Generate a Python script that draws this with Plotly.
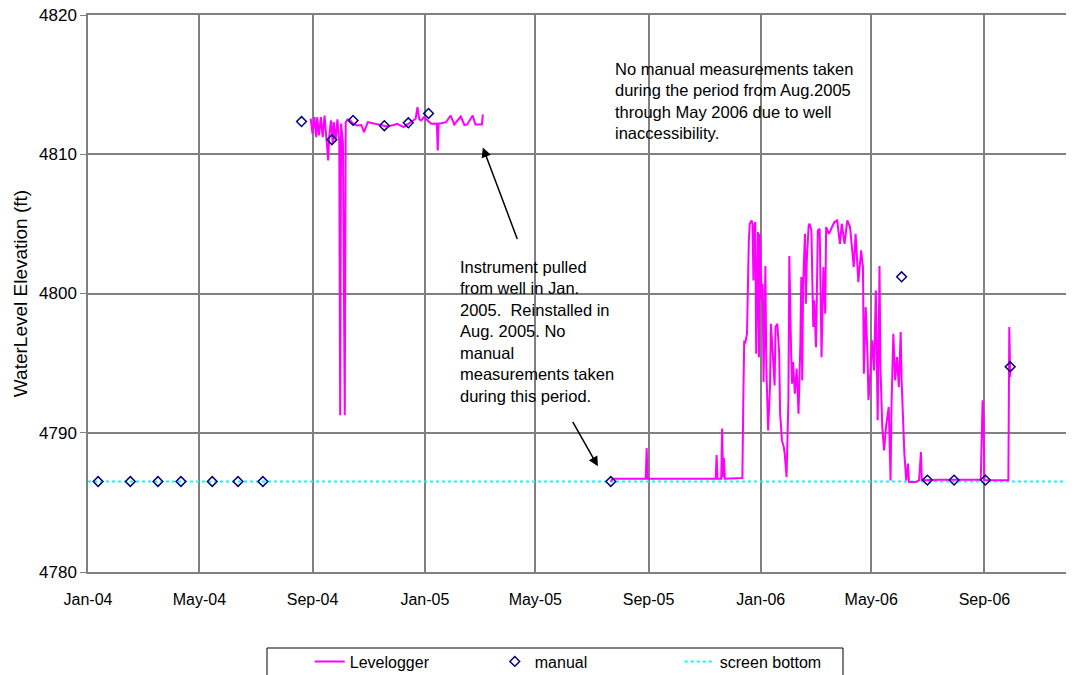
import plotly.graph_objects as go

# manual measurements (open diamonds)
manual_dates = ["2004-01-12", "2004-02-16", "2004-03-17", "2004-04-11", "2004-05-15",
                "2004-06-12", "2004-07-09",
                "2004-08-20", "2004-09-22", "2004-10-15", "2004-11-18", "2004-12-14", "2005-01-05",
                "2005-07-22",
                "2006-06-03", "2006-07-01", "2006-07-30", "2006-09-02", "2006-09-29"]
manual_ft = [4786.5, 4786.5, 4786.5, 4786.5, 4786.5,
             4786.5, 4786.5,
             4812.35, 4811.04, 4812.43, 4812.05, 4812.26, 4812.93,
             4786.5,
             4801.2, 4786.6, 4786.6, 4786.6, 4794.74]

# Levelogger record (None = gap while instrument was out of the well)
logger_dates = [
    "2004-08-30", "2004-09-01", "2004-09-03", "2004-09-05", "2004-09-06", "2004-09-08",
    "2004-09-10", "2004-09-12", "2004-09-14", "2004-09-15", "2004-09-17", "2004-09-18",
    "2004-09-19", "2004-09-21", "2004-09-23", "2004-09-24", "2004-09-26", "2004-09-28",
    "2004-09-30", "2004-10-01", "2004-10-02", "2004-10-04", "2004-10-06", "2004-10-07",
    "2004-10-09", "2004-10-12", "2004-10-15", "2004-10-19", "2004-10-24", "2004-10-27",
    "2004-10-31", "2004-11-07", "2004-11-14", "2004-11-21", "2004-11-28", "2004-12-02",
    "2004-12-09", "2004-12-17", "2004-12-22", "2004-12-24", "2004-12-26", "2004-12-28",
    "2004-12-31", "2005-01-08", "2005-01-14", "2005-01-15", "2005-01-16", "2005-01-19",
    "2005-01-24", "2005-01-29", "2005-02-02", "2005-02-09", "2005-02-13", "2005-02-16",
    "2005-02-22", "2005-02-25", "2005-03-04", "2005-03-05",
    None,
    "2005-07-22", "2005-07-24", "2005-08-29", "2005-08-30", "2005-08-31", "2005-11-13",
    "2005-11-14", "2005-11-15", "2005-11-19", "2005-11-20", "2005-11-21", "2005-11-22",
    "2005-11-23", "2005-12-12", "2005-12-13", "2005-12-14", "2005-12-15", "2005-12-17",
    "2005-12-19", "2005-12-20", "2005-12-22", "2005-12-23", "2005-12-24", "2005-12-25",
    "2005-12-26", "2005-12-27", "2005-12-28", "2005-12-29", "2005-12-30", "2005-12-31",
    "2006-01-02", "2006-01-03", "2006-01-04", "2006-01-06", "2006-01-07", "2006-01-09",
    "2006-01-11", "2006-01-12", "2006-01-14", "2006-01-16", "2006-01-17", "2006-01-19",
    "2006-01-21", "2006-01-22", "2006-01-24", "2006-01-26", "2006-01-27", "2006-01-29",
    "2006-01-31", "2006-02-01", "2006-02-03", "2006-02-04", "2006-02-05", "2006-02-07",
    "2006-02-09", "2006-02-11", "2006-02-13", "2006-02-14", "2006-02-15", "2006-02-16",
    "2006-02-18", "2006-02-19", "2006-02-20", "2006-02-22", "2006-02-23", "2006-02-25",
    "2006-02-27", "2006-02-28", "2006-03-02", "2006-03-04", "2006-03-06", "2006-03-08",
    "2006-03-10", "2006-03-12", "2006-03-13", "2006-03-16", "2006-03-22", "2006-03-25",
    "2006-03-28", "2006-03-30", "2006-04-02", "2006-04-05", "2006-04-08", "2006-04-12",
    "2006-04-14", "2006-04-15", "2006-04-17", "2006-04-20", "2006-04-22", "2006-04-23",
    "2006-04-25", "2006-04-27", "2006-04-28", "2006-04-30", "2006-05-02", "2006-05-04",
    "2006-05-06", "2006-05-08", "2006-05-10", "2006-05-11", "2006-05-13", "2006-05-15",
    "2006-05-17", "2006-05-20", "2006-05-22", "2006-05-23", "2006-05-25", "2006-05-27",
    "2006-05-29", "2006-05-31", "2006-06-02", "2006-06-03", "2006-06-05", "2006-06-06",
    "2006-06-08", "2006-06-10", "2006-06-11", "2006-06-18", "2006-06-22", "2006-06-24",
    "2006-06-25", "2006-07-15", "2006-08-10", "2006-08-28", "2006-08-30", "2006-08-31",
    "2006-09-01", "2006-09-15", "2006-09-27", "2006-09-28", "2006-09-29",
]
logger_ft = [
    4812.55, 4811.47, 4812.66, 4811.23, 4812.66, 4811.35,
    4812.66, 4811.23, 4812.78, 4812.07, 4810.27, 4809.55,
    4811.23, 4812.43, 4810.75, 4812.31, 4811.00, 4812.50,
    4810.90, 4791.25, 4812.20, 4810.80, 4791.25, 4812.30,
    4812.50, 4812.43, 4812.20, 4812.07, 4812.10, 4811.59,
    4812.31, 4812.20, 4812.14, 4812.00, 4812.10, 4812.19,
    4811.95, 4812.31, 4812.55, 4813.38, 4812.50, 4812.43,
    4812.66, 4812.19, 4812.20, 4810.27, 4812.20, 4812.23,
    4812.30, 4812.78, 4812.14, 4812.71, 4812.10, 4812.14,
    4812.78, 4812.14, 4812.14, 4812.86,
    None,
    4786.50, 4786.70, 4786.70, 4788.90, 4786.70, 4786.70,
    4788.40, 4786.70, 4786.70, 4790.30, 4786.80, 4788.20,
    4786.70, 4786.75, 4792.33, 4796.63, 4796.40, 4797.11,
    4803.81, 4805.01, 4805.25, 4805.01, 4800.94, 4804.77,
    4805.13, 4795.68, 4800.70, 4804.41, 4795.43, 4804.29,
    4799.51, 4800.70, 4793.64, 4801.98, 4794.72, 4790.17,
    4793.28, 4797.83, 4795.68, 4793.40, 4797.59, 4797.83,
    4795.68, 4791.37, 4789.45, 4788.97, 4788.50, 4786.82,
    4792.33, 4802.70, 4795.68, 4793.52, 4795.08, 4792.81,
    4794.60, 4791.37, 4796.40, 4801.18, 4793.76, 4800.70,
    4804.29, 4799.27, 4802.34, 4804.89, 4805.01, 4804.53,
    4797.59, 4799.51, 4796.15, 4804.53, 4804.65, 4795.43,
    4801.90, 4798.55, 4804.77, 4804.29, 4805.13, 4805.25,
    4803.57, 4805.01, 4803.57, 4805.25, 4804.77, 4801.90,
    4804.29, 4803.10, 4800.82, 4803.10, 4801.90, 4794.24,
    4799.02, 4795.43, 4792.33, 4794.24, 4796.63, 4794.48,
    4800.22, 4790.89, 4801.98, 4794.72, 4790.41, 4788.74,
    4790.41, 4791.85, 4786.58, 4791.85, 4797.11, 4793.76,
    4795.43, 4793.28, 4797.23, 4793.76, 4789.94, 4788.50,
    4786.58, 4787.78, 4786.46, 4786.46, 4786.58, 4788.61,
    4786.58, 4786.63, 4786.63, 4786.63, 4792.33, 4791.13,
    4786.58, 4786.60, 4786.58, 4797.59, 4794.00,
]

# screen bottom elevation
screen_dates = ["2004-01-01", "2007-01-01"]
screen_ft = [4786.5, 4786.5]

tick_dates = ["2004-01-01", "2004-05-01", "2004-09-01", "2005-01-01", "2005-05-01",
              "2005-09-01", "2006-01-01", "2006-05-01", "2006-09-01"]

FONT = "Liberation Sans, Arial, sans-serif"
GRID = "#808080"
PW = 994  # plot width in px (figure is offset ~8px by the page body margin)

fig = go.Figure()
fig.add_trace(go.Scatter(x=screen_dates, y=screen_ft, name="screen bottom", mode="lines",
                         line=dict(color="#00FFFF", width=2, dash="dot"), legendrank=3))
fig.add_trace(go.Scatter(x=logger_dates, y=logger_ft, name="Levelogger", mode="lines",
                         line=dict(color="#FF00FF", width=2), connectgaps=False, legendrank=1))
fig.add_trace(go.Scatter(x=manual_dates, y=manual_ft, name="manual", mode="markers",
                         marker=dict(symbol="diamond-open", size=7.5, color="#000080",
                                     line=dict(width=1.5, color="#000080")), legendrank=2))

notes = [
    dict(text="No manual measurements taken<br>during the period from Aug.2005<br>"
              "through May 2006 due to well<br>inaccessibility.",
         x=(613 - 88) / PW, y=0.9228),
    dict(text="Instrument pulled<br>from well in Jan.<br>2005.  Reinstalled in<br>"
              "Aug. 2005. No<br>manual<br>measurements taken<br>during this period.",
         x=(458 - 88) / PW, y=0.5673),
]
for n in notes:
    fig.add_annotation(text=n["text"], x=n["x"], y=n["y"], xref="paper", yref="paper",
                       xanchor="left", yanchor="top", align="left", showarrow=False,
                       font=dict(family=FONT, size=16.5, color="black"))

# arrows
fig.add_annotation(x="2005-03-05", y=4810.49, xref="x", yref="y", ax=35, ay=93,
                   text="", showarrow=True, arrowhead=2, arrowsize=1.3, arrowwidth=1.5,
                   arrowcolor="black")
fig.add_annotation(x="2005-07-08", y=4787.59, xref="x", yref="y", ax=-26, ay=-46,
                   text="", showarrow=True, arrowhead=2, arrowsize=1.3, arrowwidth=1.5,
                   arrowcolor="black")

# legend frame (runs off the bottom edge like the original)
fig.add_shape(type="rect", xref="paper", yref="paper",
              x0=(267 - 88) / PW, x1=(843 - 88) / PW,
              y0=-0.25, y1=(572 - 648) / 557,
              line=dict(color="black", width=1), fillcolor="white", layer="below")

fig.update_layout(
    width=1074, height=675,
    margin=dict(l=80, r=0, t=7, b=111, autoexpand=False),
    paper_bgcolor="white", plot_bgcolor="white",
    font=dict(family=FONT, size=16, color="black"),
    showlegend=True,
    legend=dict(orientation="h", xref="container", yref="container",
                x=0.281, y=0.057, xanchor="left", yanchor="top",
                borderwidth=0, bgcolor="rgba(0,0,0,0)",
                font=dict(size=16), entrywidth=140),
    xaxis=dict(type="date", range=["2004-01-01", "2006-12-16"],
               tickvals=tick_dates, tickformat="%b-%y", automargin=False,
               showgrid=True, gridcolor=GRID, gridwidth=1.5,
               showline=True, linecolor=GRID, linewidth=1.5, mirror=True,
               ticks="", ticklabelstandoff=12, zeroline=False),
    yaxis=dict(range=[4780, 4820], tick0=4780, dtick=10, automargin=False,
               ticklabeloverflow="allow",
               showgrid=True, gridcolor=GRID, gridwidth=1.5,
               showline=True, linecolor=GRID, linewidth=1.5, tickfont=dict(size=17),
               ticks="outside", ticklen=6, tickcolor=GRID, zeroline=False,
               title=dict(text="WaterLevel Elevation (ft)", font=dict(size=19), standoff=6)),
)

fig.write_html("out.html")
